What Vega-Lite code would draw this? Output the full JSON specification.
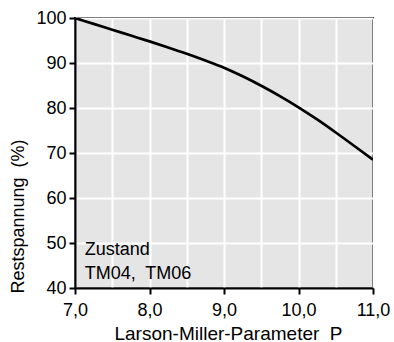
{
  "$schema": "https://vega.github.io/schema/vega-lite/v6.json",
  "autosize": {"type": "none"},
  "width": 298,
  "height": 270,
  "padding": {"left": 75, "top": 18, "right": 21, "bottom": 54},
  "background": "white",
  "config": {
    "font": "Liberation Sans",
    "view": {"fill": "#e5e5e5", "stroke": "black", "strokeWidth": 2},
    "axis": {
      "domainColor": "black",
      "domainWidth": 2,
      "tickColor": "black",
      "tickWidth": 2,
      "tickSize": 6,
      "gridColor": "white",
      "gridWidth": 2,
      "gridOpacity": 1,
      "labelColor": "black",
      "labelFont": "Liberation Sans",
      "labelFontSize": 18,
      "titleFont": "Liberation Sans",
      "titleFontSize": 18,
      "titleFontWeight": "normal",
      "titleColor": "black"
    }
  },
  "resolve": {"axis": {"x": "independent", "y": "independent"}},
  "layer": [
    {
      "data": {
        "values": [
          {"P": 7.0, "R": 100.0},
          {"P": 7.25, "R": 98.7},
          {"P": 7.5, "R": 97.4},
          {"P": 7.75, "R": 96.1},
          {"P": 8.0, "R": 94.8},
          {"P": 8.25, "R": 93.45},
          {"P": 8.5, "R": 92.05},
          {"P": 8.75, "R": 90.55},
          {"P": 9.0, "R": 88.95},
          {"P": 9.25, "R": 87.05},
          {"P": 9.5, "R": 84.95},
          {"P": 9.75, "R": 82.65},
          {"P": 10.0, "R": 80.15},
          {"P": 10.25, "R": 77.45},
          {"P": 10.5, "R": 74.55},
          {"P": 10.75, "R": 71.55},
          {"P": 11.0, "R": 68.5}
        ]
      },
      "mark": {"type": "line", "color": "black", "strokeWidth": 2.7, "interpolate": "monotone", "clip": true},
      "encoding": {
        "x": {
          "field": "P", "type": "quantitative",
          "scale": {"domain": [7, 11], "nice": false, "zero": false},
          "axis": {
            "orient": "bottom",
            "title": null,
            "grid": true,
            "values": [7, 7.5, 8, 8.5, 9, 9.5, 10, 10.5, 11],
            "labels": false,
            "ticks": false,
            "domain": false
          }
        },
        "y": {
          "field": "R", "type": "quantitative",
          "scale": {"domain": [40, 100], "nice": false, "zero": false},
          "axis": {
            "orient": "left",
            "title": null,
            "grid": true,
            "values": [40, 50, 60, 70, 80, 90, 100],
            "labels": false,
            "ticks": false,
            "domain": false
          }
        }
      }
    },
    {
      "data": {
        "values": [
          {"P": 7.13, "R": 47.3, "t": "Zustand"},
          {"P": 7.13, "R": 42.0, "t": "TM04,\u00a0 TM06"}
        ]
      },
      "mark": {"type": "text", "align": "left", "baseline": "alphabetic", "fontSize": 18, "font": "Liberation Sans", "color": "black"},
      "encoding": {
        "x": {
          "field": "P", "type": "quantitative",
          "axis": {
            "orient": "bottom",
            "title": "Larson-Miller-Parameter\u00a0 P",
            "titleFontSize": 19,
            "titleX": 153,
            "grid": false,
            "values": [7, 8, 9, 10, 11],
            "labelExpr": "replace(format(datum.value, '.1f'), '.', ',')",
            "labelPadding": 7,
            "titlePadding": 5,
            "labelFlush": false
          }
        },
        "y": {
          "field": "R", "type": "quantitative",
          "axis": {
            "orient": "left",
            "title": "Restspannung\u00a0 (%)",
            "titleAnchor": "start",
            "titleY": 275,
            "grid": false,
            "values": [40, 50, 60, 70, 80, 90, 100],
            "labelPadding": 3,
            "titlePadding": 8,
            "labelFlush": false
          }
        },
        "text": {"field": "t"}
      }
    }
  ]
}
